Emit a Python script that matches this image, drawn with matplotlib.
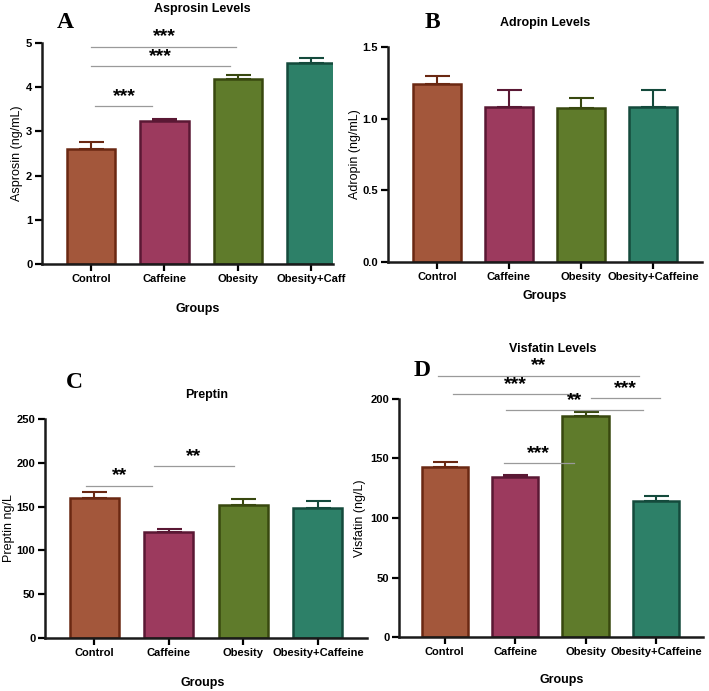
import numpy as np
import matplotlib.pyplot as plt

plt.rcParams['font.family'] = ['Liberation Sans', 'DejaVu Sans']
plt.rcParams['font.weight'] = 'bold'

# --- data ---
groups = ["Control", "Caffeine", "Obesity", "Obesity+Caffeine"]
fills = ["#a3573b", "#9c3a5e", "#5f7b2b", "#2d8068"]
edges = ["#6a2812", "#5a1834", "#38480f", "#144a3c"]

asprosin = [2.61, 3.24, 4.18, 4.55]
asprosin_err = [0.15, 0.05, 0.09, 0.12]
adropin = [1.243, 1.081, 1.072, 1.081]
adropin_err = [0.053, 0.116, 0.075, 0.116]
preptin = [159.7, 120.8, 152.4, 147.9]
preptin_err = [7.2, 3.1, 6.1, 8.7]
visfatin = [142.5, 134.6, 185.7, 114.2]
visfatin_err = [4.2, 1.7, 3.1, 4.2]

# significance brackets: (x0, x1, y, label, label_x)
sig_a = [(0, 1.98, 4.91, "***", 1.0), (0, 1.89, 4.47, "***", 0.95), (0.06, 0.83, 3.57, "***", 0.45)]
sig_c = [(-0.11, 0.78, 174, "**", 0.34), (0.80, 1.88, 196, "**", 1.33)]
sig_d = [(-0.10, 2.76, 219.4, "**", 1.33), (0.12, 1.88, 204.2, "***", 1.0),
         (0.87, 2.81, 190.7, "**", 1.84), (2.08, 3.06, 200.6, "***", 2.56),
         (0.84, 1.84, 145.9, "***", 1.33)]

fig = plt.figure(figsize=(7.09, 6.91), dpi=100)


def panel(rect, vals, errs, xlim, ylim, yticks, yfmt, ylabel, ylab_x, title, tpos,
          letter, lpos, gpos, sigs=(), labels=groups):
    ax = fig.add_axes(rect)
    x = np.arange(len(vals))
    ax.bar(x, vals, width=0.66, color=fills, edgecolor=edges, linewidth=1.8, zorder=2)
    for xi, v, e, c in zip(x, vals, errs, edges):
        ax.errorbar(xi, v, yerr=[[0], [e]], color=c, capsize=9, capthick=1.5,
                    elinewidth=1.5, zorder=1)
    ax.set_xlim(*xlim)
    ax.set_ylim(*ylim)
    ax.set_yticks(yticks)
    ax.set_yticklabels([yfmt.format(t) for t in yticks])
    ax.set_xticks(x)
    ax.set_xticklabels(labels)
    for s in ["top", "right"]:
        ax.spines[s].set_visible(False)
    for s in ["left", "bottom"]:
        ax.spines[s].set_linewidth(1.8)
        ax.spines[s].set_color("#1a1a1a")
    ax.tick_params(width=1.6, length=5, labelsize=8, pad=2)
    ax.set_ylabel(ylabel, fontsize=9, va="center")
    ax.yaxis.set_label_coords(ylab_x, 0.5)
    for x0, x1, y, lab, lx in sigs:
        ax.plot([x0, x1], [y, y], color="#9a9a9a", lw=0.9, clip_on=False)
        ax.annotate(lab, (lx, y), xytext=(0, 1), textcoords="offset points",
                    ha="center", va="bottom", fontsize=14, annotation_clip=False)
    fig.text(tpos[0], tpos[1], title, ha="center", va="center", fontsize=9)
    fig.text(lpos[0], lpos[1], letter, ha="center", va="center", fontsize=17,
             family="Liberation Serif", weight="bold")
    fig.text(gpos[0], gpos[1], "Groups", ha="center", va="center", fontsize=9)
    return ax


panel([0.0592, 0.6179, 0.4105, 0.3199], asprosin, asprosin_err, (-0.67, 3.30), (0, 5),
      [0, 1, 2, 3, 4, 5], "{:g}", "Asprosin (ng/mL)", -0.086, "Asprosin Levels", (0.285, 1 - 9 / 691),
      "A", (0.092, 1 - 23 / 691), (0.279, 1 - 309 / 691), sig_a,
      labels=["Control", "Caffeine", "Obesity", "Obesity+Caff"])

panel([0.5472, 0.6208, 0.4429, 0.3112], adropin, adropin_err, (-0.68, 3.68), (0, 1.5),
      [0, 0.5, 1.0, 1.5], "{:.1f}", "Adropin (ng/mL)", -0.105, "Adropin Levels", (545 / 709, 1 - 23 / 691),
      "B", (432 / 709, 1 - 22 / 691), (545 / 709, 1 - 296 / 691))

panel([0.0635, 0.0767, 0.4542, 0.3169], preptin, preptin_err, (-0.66, 3.66), (0, 250),
      [0, 50, 100, 150, 200, 250], "{:g}", "Preptin ng/L", -0.112, "Preptin", (207 / 709, 1 - 395 / 691),
      "C", (74 / 709, 1 - 383 / 691), (203 / 709, 1 - 683 / 691), sig_c)

panel([0.5628, 0.0781, 0.4288, 0.3445], visfatin, visfatin_err, (-0.65, 3.67), (0, 200),
      [0, 50, 100, 150, 200], "{:g}", "Visfatin (ng/L)", -0.128, "Visfatin Levels", (553 / 709, 1 - 349 / 691),
      "D", (422 / 709, 1 - 370 / 691), (562 / 709, 1 - 680 / 691), sig_d)

fig.savefig("out.png", dpi=100)
